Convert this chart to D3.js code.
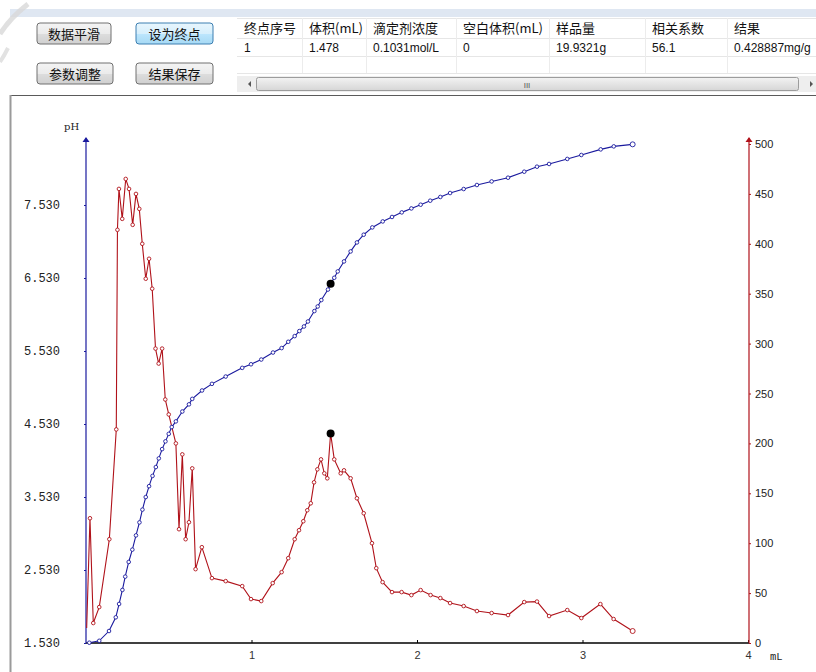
<!DOCTYPE html>
<html>
<head>
<meta charset="utf-8">
<script src="https://cdn.jsdelivr.net/npm/d3@7"></script>
<style>
  body { margin: 0; background: #fff; }
  svg { display: block; }
</style>
</head>
<body>
<svg id="view" width="816" height="672"></svg>
<script>
// buttons and result table
let buttons = ["数据平滑", "设为终点", "参数调整", "结果保存"];
let headers = ["终点序号", "体积(mL)", "滴定剂浓度", "空白体积(mL)", "样品量", "相关系数", "结果"];
let resultRow = ["1", "1.478", "0.1031mol/L", "0", "19.9321g", "56.1", "0.428887mg/g"];

// titration curve: volume (mL) / pH
let volume = [0.02, 0.08, 0.139, 0.18, 0.2, 0.22, 0.237, 0.258, 0.28, 0.302, 0.323, 0.341, 0.361, 0.381,
  0.402, 0.422, 0.44, 0.46, 0.48, 0.5, 0.518, 0.543, 0.582, 0.622, 0.642, 0.701, 0.761, 0.844, 0.944,
  0.997, 1.059, 1.13, 1.182, 1.222, 1.261, 1.289, 1.317, 1.341, 1.38, 1.4, 1.422, 1.462, 1.478, 1.5,
  1.521, 1.559, 1.599, 1.637, 1.678, 1.73, 1.793, 1.849, 1.908, 1.966, 2.022, 2.08, 2.141, 2.2, 2.282,
  2.362, 2.451, 2.55, 2.648, 2.725, 2.798, 2.908, 2.993, 3.11, 3.189, 3.303];
let pH = [1.534, 1.56, 1.694, 1.882, 2.065, 2.257, 2.439, 2.64, 2.809, 3.004, 3.182, 3.357, 3.529, 3.678,
  3.819, 3.94, 4.059, 4.186, 4.292, 4.395, 4.488, 4.566, 4.701, 4.799, 4.874, 4.989, 5.08, 5.18, 5.299,
  5.348, 5.413, 5.509, 5.57, 5.656, 5.734, 5.803, 5.866, 5.934, 6.077, 6.14, 6.228, 6.372, 6.451, 6.533,
  6.62, 6.757, 6.894, 7.017, 7.123, 7.223, 7.305, 7.366, 7.429, 7.483, 7.534, 7.589, 7.64, 7.694, 7.749,
  7.804, 7.853, 7.904, 7.986, 8.055, 8.092, 8.161, 8.215, 8.292, 8.333, 8.361];

// first derivative: volume (mL) / dpH/dV
let dVolume = [0.004, 0.024, 0.044, 0.08, 0.141, 0.183, 0.19, 0.199, 0.219, 0.24, 0.26, 0.282, 0.302, 0.322,
  0.34, 0.361, 0.381, 0.4, 0.42, 0.439, 0.46, 0.479, 0.5, 0.543, 0.562, 0.582, 0.602, 0.622, 0.642, 0.662,
  0.7, 0.761, 0.844, 0.944, 0.997, 1.059, 1.128, 1.182, 1.222, 1.261, 1.287, 1.313, 1.337, 1.358, 1.378,
  1.398, 1.42, 1.44, 1.458, 1.478, 1.5, 1.539, 1.559, 1.599, 1.637, 1.678, 1.728, 1.754, 1.792, 1.849,
  1.907, 1.966, 2.022, 2.082, 2.141, 2.2, 2.282, 2.362, 2.451, 2.55, 2.648, 2.725, 2.798, 2.908, 2.993,
  3.108, 3.188, 3.303];
let dValue = [15, 125, 20, 36, 104, 214, 414, 455, 425, 465, 455, 419, 450, 435,
  400, 365, 385, 355, 295, 280, 295, 244, 229, 200, 114, 189, 104, 121, 175, 74,
  96, 65, 62, 57, 44, 42, 60, 71, 85, 104, 113, 122, 133, 140, 161,
  174, 184, 170, 165, 210, 184, 170, 173, 165, 145, 130, 100, 75, 61, 51,
  51, 48, 53, 48, 45, 40, 37, 32, 30, 28, 41, 41.5, 27, 33, 25,
  39, 24, 12];

let endVolume = 1.478;
let pHTicks = [1.53, 2.53, 3.53, 4.53, 5.53, 6.53, 7.53];
let dTicks = [0, 50, 100, 150, 200, 250, 300, 350, 400, 450, 500];
let volTicks = [1, 2, 3, 4];

let svg = d3.select('#view');
let cjk = '"Noto Sans CJK SC", sans-serif';

// ---- top bar ----
svg.append('rect').attr('x', 10).attr('y', 9).attr('width', 806).attr('height', 8).attr('fill', '#dfe7f2');
svg.append('path').attr('d', 'M0,34 Q10,18 28,4').attr('fill', 'none')
  .attr('stroke', '#d8d8d8').attr('stroke-width', 5).attr('opacity', 0.8);
svg.append('path').attr('d', 'M0,62 Q4,56 8,48').attr('fill', 'none')
  .attr('stroke', '#e2e2e2').attr('stroke-width', 4);

let defs = svg.append('defs');
let g1 = defs.append('linearGradient').attr('id', 'btn').attr('x1', 0).attr('y1', 0).attr('x2', 0).attr('y2', 1);
g1.append('stop').attr('offset', '0%').attr('stop-color', '#f4f4f4');
g1.append('stop').attr('offset', '50%').attr('stop-color', '#ebebeb');
g1.append('stop').attr('offset', '51%').attr('stop-color', '#dddddd');
g1.append('stop').attr('offset', '100%').attr('stop-color', '#d0d0d0');
let g2 = defs.append('linearGradient').attr('id', 'btnOn').attr('x1', 0).attr('y1', 0).attr('x2', 0).attr('y2', 1);
g2.append('stop').attr('offset', '0%').attr('stop-color', '#e8f6fd');
g2.append('stop').attr('offset', '50%').attr('stop-color', '#d7effc');
g2.append('stop').attr('offset', '51%').attr('stop-color', '#bde6fd');
g2.append('stop').attr('offset', '100%').attr('stop-color', '#a6d9f4');
let g3 = defs.append('linearGradient').attr('id', 'thumb').attr('x1', 0).attr('y1', 0).attr('x2', 0).attr('y2', 1);
g3.append('stop').attr('offset', '0%').attr('stop-color', '#f3f3f3');
g3.append('stop').attr('offset', '100%').attr('stop-color', '#d6d6d6');

let btnPos = [[37, 23, 74], [136, 23, 77], [37, 63, 76], [136, 63, 77]];
let btn = svg.selectAll('g.btn').data(buttons).enter().append('g').attr('class', 'btn')
  .attr('transform', (d, i) => `translate(${btnPos[i][0]},${btnPos[i][1]})`);
btn.append('rect').attr('width', (d, i) => btnPos[i][2]).attr('height', 21).attr('rx', 3)
  .attr('fill', (d, i) => i == 1 ? 'url(#btnOn)' : 'url(#btn)')
  .attr('stroke', (d, i) => i == 1 ? '#3c7fb1' : '#707070');
btn.append('text').attr('x', (d, i) => btnPos[i][2] / 2).attr('y', 15.5).attr('text-anchor', 'middle')
  .style('font-family', cjk).style('font-size', '13px').attr('fill', '#111').text(d => d);

// result table
let colX = [237, 302, 366, 456, 549, 645, 727, 840];
let rowY = [18, 38, 56, 73];
let tbl = svg.append('g');
rowY.forEach(y => tbl.append('line').attr('x1', 237).attr('x2', 816).attr('y1', y + 0.5).attr('y2', y + 0.5).attr('stroke', '#e6e6e6'));
colX.slice(1, 7).forEach(x => tbl.append('line').attr('x1', x + 0.5).attr('x2', x + 0.5).attr('y1', 18).attr('y2', 73).attr('stroke', '#ececec'));
tbl.selectAll('text.h').data(headers).enter().append('text').attr('class', 'h')
  .attr('x', (d, i) => colX[i] + 7).attr('y', 33)
  .style('font-family', cjk).style('font-size', '13px').attr('fill', '#111').text(d => d);
tbl.selectAll('text.r').data(resultRow).enter().append('text').attr('class', 'r')
  .attr('x', (d, i) => colX[i] + 7).attr('y', 52)
  .style('font-family', '"Liberation Sans", sans-serif').style('font-size', '12px').attr('fill', '#111').text(d => d);

// scroll bar
tbl.append('rect').attr('x', 237).attr('y', 76).attr('width', 579).attr('height', 16).attr('fill', '#eeeeee');
tbl.append('rect').attr('x', 256.5).attr('y', 77.5).attr('width', 542).attr('height', 13).attr('rx', 2)
  .attr('fill', 'url(#thumb)').attr('stroke', '#9c9c9c');
tbl.append('text').attr('x', 527).attr('y', 88).attr('text-anchor', 'middle')
  .style('font-family', '"Liberation Sans", sans-serif').style('font-size', '8px').attr('fill', '#555').text('III');
tbl.append('path').attr('d', 'M248,84 L251,81 L251,87 Z').attr('fill', '#555');
tbl.append('path').attr('d', 'M810,81 L813,84 L810,87 Z').attr('fill', '#555');

// chart frame
svg.append('rect').attr('x', 10).attr('y', 95).attr('width', 806).attr('height', 577).attr('fill', '#fff');
svg.append('line').attr('x1', 10).attr('x2', 816).attr('y1', 95.5).attr('y2', 95.5).attr('stroke', '#5a5a5a');
svg.append('line').attr('x1', 10.5).attr('x2', 10.5).attr('y1', 95).attr('y2', 672).attr('stroke', '#9a9a9a').attr('stroke-width', 2);

// ---- chart ----
let x = d3.scaleLinear().domain([0, 4]).range([86, 748]);
let yPH = d3.scaleLinear().domain([1.53, 7.53]).range([643, 205]);
let yD = d3.scaleLinear().domain([0, 500]).range([643, 144]);

let blue = '#1a1a9e', red = '#b0121a';

let axL = svg.append('g').attr('transform', `translate(${x(0)},0)`)
  .call(d3.axisLeft(yPH).tickValues(pHTicks).tickFormat(d3.format('.3f')).tickSize(2).tickPadding(24));
axL.select('.domain').remove();
axL.selectAll('line').attr('stroke', blue);
axL.selectAll('text').style('font-family', '"Liberation Mono", monospace').style('font-size', '12px').attr('fill', '#222');

let axR = svg.append('g').attr('transform', `translate(${x(4) + 1},0)`)
  .call(d3.axisRight(yD).tickValues(dTicks).tickSize(2).tickPadding(4));
axR.select('.domain').remove();
axR.selectAll('line').attr('stroke', red);
axR.selectAll('text').style('font-family', '"Liberation Sans", sans-serif').style('font-size', '11px').attr('fill', '#222');

let axB = svg.append('g').attr('transform', `translate(0,${yPH(1.53)})`)
  .call(d3.axisBottom(x).tickValues(volTicks).tickFormat(d3.format('d')).tickSizeInner(-3).tickSizeOuter(0).tickPadding(8));
axB.select('.domain').remove();
axB.selectAll('text').style('font-family', '"Liberation Sans", sans-serif').style('font-size', '11px').attr('fill', '#333');

// axis lines with arrows
let axisTop = 138;
svg.append('line').attr('x1', x(0)).attr('x2', x(4) + 1).attr('y1', yPH(1.53)).attr('y2', yPH(1.53)).attr('stroke', '#000').attr('stroke-width', 1.3);
svg.append('line').attr('x1', x(0)).attr('x2', x(0)).attr('y1', yPH(1.53)).attr('y2', axisTop).attr('stroke', blue).attr('stroke-width', 1.2);
svg.append('path').attr('d', `M${x(0) - 3.5},${axisTop + 4} L${x(0)},${axisTop - 1} L${x(0) + 3.5},${axisTop + 4} Z`).attr('fill', blue);
svg.append('line').attr('x1', x(4) + 1).attr('x2', x(4) + 1).attr('y1', yPH(1.53)).attr('y2', axisTop).attr('stroke', red).attr('stroke-width', 1.2);
svg.append('path').attr('d', `M${x(4) - 2.5},${axisTop + 4} L${x(4) + 1},${axisTop - 1} L${x(4) + 4.5},${axisTop + 4} Z`).attr('fill', red);

svg.append('text').attr('x', 64).attr('y', 130).style('font-family', '"DejaVu Serif", serif').style('font-size', '10px').attr('fill', '#222').text('pH');
svg.append('text').attr('x', 770).attr('y', 660).style('font-family', '"Liberation Mono", monospace').style('font-size', '10.5px').attr('fill', '#222').text('mL');

// curves
let curve = volume.map((v, i) => [v, pH[i]]);
let deriv = dVolume.map((v, i) => [v, dValue[i]]);

svg.append('path').datum(curve).attr('fill', 'none').attr('stroke', blue).attr('stroke-width', 1.1)
  .attr('d', d3.line().x(d => x(d[0])).y(d => yPH(d[1])));
svg.append('path').datum(deriv).attr('fill', 'none').attr('stroke', red).attr('stroke-width', 1.1)
  .attr('d', d3.line().x(d => x(d[0])).y(d => yD(d[1])));

svg.selectAll('circle.p').data(curve).enter().append('circle').attr('class', 'p')
  .attr('cx', d => x(d[0])).attr('cy', d => yPH(d[1]))
  .attr('r', (d, i) => i == curve.length - 1 ? 2.5 : 1.8)
  .attr('fill', '#fff').attr('stroke', blue).attr('stroke-width', 0.9);
svg.selectAll('circle.d').data(deriv.slice(1)).enter().append('circle').attr('class', 'd')
  .attr('cx', d => x(d[0])).attr('cy', d => yD(d[1]))
  .attr('r', (d, i) => i == deriv.length - 2 ? 2.5 : 1.8)
  .attr('fill', '#fff').attr('stroke', red).attr('stroke-width', 0.9);

// end point markers
let ei = volume.indexOf(endVolume), di = dVolume.indexOf(endVolume);
svg.append('circle').attr('cx', x(endVolume)).attr('cy', yPH(pH[ei])).attr('r', 4).attr('fill', '#000');
svg.append('circle').attr('cx', x(endVolume)).attr('cy', yD(dValue[di])).attr('r', 4).attr('fill', '#000');
</script>
</body>
</html>
